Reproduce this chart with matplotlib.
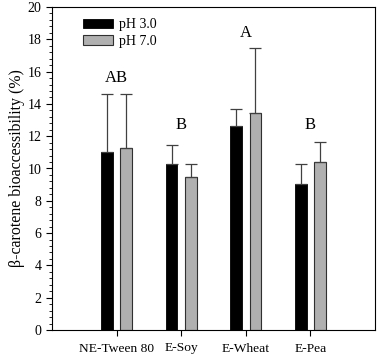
import matplotlib.pyplot as plt
from matplotlib.ticker import MultipleLocator

categories = ['NE-Tween 80', 'E-Soy', 'E-Wheat', 'E-Pea']
ph3_mean = [11.0, 10.28, 12.63, 9.04]
ph3_err = [3.6, 1.16, 1.04, 1.26]
ph7_mean = [11.27, 9.45, 13.42, 10.42]
ph7_err = [3.32, 0.85, 4.06, 1.22]
letters = ['AB', 'B', 'A', 'B']
letter_y = [15.6, 12.7, 18.4, 12.7]

plt.rcParams['font.family'] = ['Liberation Serif', 'DejaVu Serif']

fig = plt.figure(figsize=(3.78, 3.57), dpi=100)
ax = fig.add_axes([52 / 378, 1 - 330 / 357, 323 / 378, 323 / 357])

x = list(range(1, len(categories) + 1))
w = 0.185
off = 0.15
ax.bar([i - off for i in x], ph3_mean, w, color='black', edgecolor='black',
       linewidth=0.6, label='pH 3.0',
       yerr=[[0] * 4, ph3_err], error_kw=dict(ecolor='#404040', elinewidth=0.9, capsize=4, capthick=0.9))
ax.bar([i + off for i in x], ph7_mean, w, color='#b0b0b0', edgecolor='#303030',
       linewidth=0.8, label='pH 7.0',
       yerr=[[0] * 4, ph7_err], error_kw=dict(ecolor='#404040', elinewidth=0.9, capsize=4, capthick=0.9))

for i, t, yy in zip(x, letters, letter_y):
    ax.text(i, yy, t, ha='center', va='center', fontsize=12)

ax.set_xlim(0, 5)
ax.set_ylim(0, 20)
ax.set_xticks(x)
ax.set_xticklabels(categories)
ax.yaxis.set_major_locator(MultipleLocator(2))
ax.yaxis.set_minor_locator(MultipleLocator(0.4))
ax.tick_params(axis='both', which='major', direction='out', length=4, width=0.8, labelsize=10)
ax.tick_params(axis='x', which='major', pad=5, labelsize=9.7)
ax.tick_params(axis='y', which='minor', direction='out', length=2.5, width=0.6)
ax.set_ylabel('β-carotene bioaccessibility (%)', fontsize=11.4, labelpad=1.5)
for s in ax.spines.values():
    s.set_linewidth(0.8)

ax.legend(loc='upper left', bbox_to_anchor=(0.067, 0.995), frameon=False, fontsize=10,
          handlelength=2.1, handleheight=0.65, handletextpad=0.45, labelspacing=0.25,
          borderaxespad=0.3)

fig.savefig('out.png', dpi=100)
